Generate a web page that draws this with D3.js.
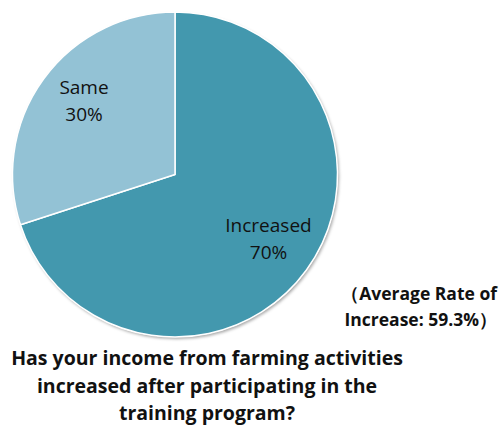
<!DOCTYPE html>
<html>
<head>
<meta charset="utf-8">
<script src="https://cdn.jsdelivr.net/npm/d3@7"></script>
<style>
  html, body { margin: 0; padding: 0; background: #ffffff; }
  svg { display: block; }
  text { font-family: "Open Sans", "Noto Sans", sans-serif; }
</style>
</head>
<body>
<svg id="chart" width="502" height="425"></svg>
<script>
// Survey answers and their shares (percent)
const categories = ["Increased", "Same"];
const shares = [70, 30];
const sliceColors = ["#4398ae", "#93c2d5"];
const titleLines = [
  "Has your income from farming activities",
  "increased after participating in the",
  "training program?"
];
const noteLines = ["（Average Rate of", "Increase: 59.3%）"];

const svg = d3.select("#chart");
const cx = 175, cy = 174.5, radius = 162.5;

const defs = svg.append("defs");
const shadow = defs.append("filter").attr("id", "shade")
  .attr("x", "-20%").attr("y", "-20%").attr("width", "140%").attr("height", "140%");
shadow.append("feDropShadow").attr("dx", 1.5).attr("dy", 2)
  .attr("stdDeviation", 1.6).attr("flood-color", "#000").attr("flood-opacity", 0.35);

const data = categories.map((c, i) => ({ name: c, value: shares[i], color: sliceColors[i] }));
const pie = d3.pie().value(d => d.value).sort(null);
const arcs = pie(data);
const arc = d3.arc().innerRadius(0).outerRadius(radius);

const g = svg.append("g").attr("transform", `translate(${cx},${cy})`);

g.append("circle").attr("r", radius).attr("fill", "#ffffff").attr("filter", "url(#shade)");

g.selectAll("path.slice").data(arcs).join("path")
  .attr("class", "slice")
  .attr("d", arc)
  .attr("fill", d => d.data.color)
  .attr("stroke", "#ffffff")
  .attr("stroke-width", 1.5)
  .attr("stroke-linejoin", "round");

// Slice labels: name above, percent below
const labelPos = {
  "Increased": [268.5, 231.5],
  "Same": [84, 93.5]
};
arcs.forEach(a => {
  const [x, y] = labelPos[a.data.name];
  const t = svg.append("text")
    .attr("text-anchor", "middle")
    .attr("font-size", 19)
    .attr("fill", "#111");
  t.append("tspan").attr("x", x).attr("y", y).text(a.data.name);
  t.append("tspan").attr("x", x).attr("y", y + 27.5).text(a.data.value + "%");
});

// Note at the lower right
svg.append("g").selectAll("text").data(noteLines).join("text")
  .attr("x", 497)
  .attr("y", (d, i) => 299.5 + i * 26.5)
  .attr("text-anchor", "end")
  .attr("font-size", 17.5)
  .attr("font-weight", "bold")
  .attr("fill", "#111")
  .text(d => d);

// Question under the pie
svg.append("g").selectAll("text").data(titleLines).join("text")
  .attr("x", 207)
  .attr("y", (d, i) => 365 + i * 27.5)
  .attr("text-anchor", "middle")
  .attr("font-size", 19.5)
  .attr("font-weight", "bold")
  .attr("fill", "#111")
  .text(d => d);
</script>
</body>
</html>
